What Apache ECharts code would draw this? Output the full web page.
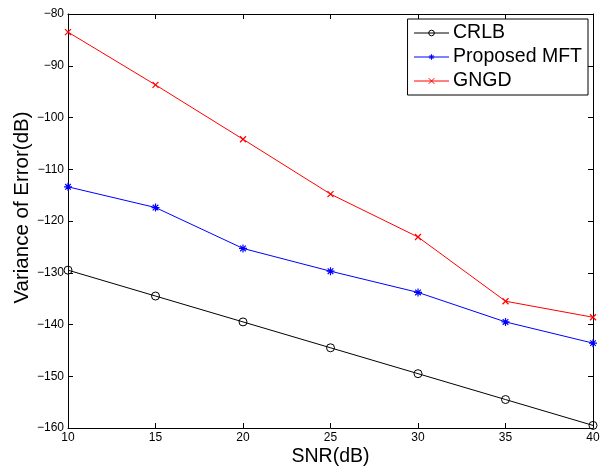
<!DOCTYPE html>
<html>
<head>
<meta charset="utf-8">
<script src="https://cdn.jsdelivr.net/npm/echarts@6/dist/echarts.min.js"></script>
<style>
  html, body { margin: 0; padding: 0; background: #fff; }
  #root { width: 600px; height: 470px; }
</style>
</head>
<body>
<div id="root"></div>
<script>
  // SNR points (dB)
  const snr = [10, 15, 20, 25, 30, 35, 40];
  const crlb = [-129.5, -134.5, -139.5, -144.5, -149.5, -154.5, -159.5];
  const mft = [-113.4, -117.4, -125.3, -129.7, -133.8, -139.5, -143.6];
  const gngd = [-83.5, -93.7, -104.2, -114.8, -123.1, -135.5, -138.6];

  const xTicks = [10, 15, 20, 25, 30, 35, 40];
  const yTicks = [-160, -150, -140, -130, -120, -110, -100, -90, -80];

  const font = "'Liberation Sans', Arial, Helvetica, sans-serif";
  const pair = (ys) => snr.map((x, i) => [x, ys[i]]);
  const minus = (v) => String(v).replace("-", "\u2212");

  const starPath = "path://M5,0L5,10M0,5L10,5M1.5,1.5L8.5,8.5M8.5,1.5L1.5,8.5";
  const crossPath = "path://M0,0L10,10M10,0L0,10";

  const axisCommon = {
    type: "value",
    axisLine: { show: true, lineStyle: { color: "#000", width: 1 } },
    axisTick: { show: true, inside: true, length: 5, lineStyle: { color: "#000" } },
    splitLine: { show: false },
  };

  const chart = echarts.init(document.getElementById("root"));
  chart.setOption({
    backgroundColor: "#ffffff",
    animation: false,
    textStyle: { fontFamily: font },
    grid: { left: 68, right: 7, top: 14, bottom: 42, containLabel: false, outerBoundsMode: "none" },
    legend: {
      right: 12,
      top: 19,
      orient: "vertical",
      itemWidth: 35,
      itemHeight: 7,
      itemGap: 4,
      padding: [4, 6, 4, 6],
      borderColor: "#000",
      borderWidth: 1,
      backgroundColor: "#fff",
      lineStyle: { width: 1 },
      itemStyle: { borderWidth: 1 },
      textStyle: { fontSize: 19.5, color: "#000", fontFamily: font, padding: [0, 0, 0, -1] },
      data: ["CRLB", "Proposed MFT", "GNGD"],
    },
    xAxis: [
      Object.assign({}, axisCommon, {
        min: 10, max: 40, interval: 5,
        name: "SNR(dB)",
        nameLocation: "middle",
        nameGap: 19,
        nameMoveOverlap: false,
        nameTextStyle: { fontSize: 19.5, color: "#000" },
        axisLabel: { color: "#000", fontSize: 12, margin: 4,
          formatter: (v) => xTicks.includes(v) ? minus(v) : "" },
      }),
      Object.assign({}, axisCommon, {
        position: "top", min: 10, max: 40, interval: 5,
        axisLabel: { show: false },
      }),
    ],
    yAxis: [
      Object.assign({}, axisCommon, {
        min: -160, max: -80, interval: 10,
        name: "Variance of Error(dB)",
        nameLocation: "middle",
        nameGap: 35,
        nameMoveOverlap: false,
        nameTextStyle: { fontSize: 20.5, color: "#000", padding: [0, 0, 0, 27] },
        axisLabel: { color: "#000", fontSize: 12, margin: 4,
          formatter: (v) => yTicks.includes(v) ? minus(v) : "" },
      }),
      Object.assign({}, axisCommon, {
        position: "right", min: -160, max: -80, interval: 10,
        axisLabel: { show: false },
      }),
    ],
    series: [
      {
        name: "CRLB",
        type: "line",
        data: pair(crlb),
        symbol: "circle",
        symbolSize: 8,
        lineStyle: { color: "#000", width: 1 },
        itemStyle: { color: "rgba(255,255,255,0)", borderColor: "#000", borderWidth: 1 },
      },
      {
        name: "Proposed MFT",
        type: "line",
        data: pair(mft),
        symbol: starPath,
        symbolSize: 8,
        lineStyle: { color: "#0000ff", width: 1 },
        itemStyle: { color: "#0000ff", borderColor: "#0000ff", borderWidth: 1.2 },
      },
      {
        name: "GNGD",
        type: "line",
        data: pair(gngd),
        symbol: crossPath,
        symbolSize: 6,
        lineStyle: { color: "#ff0000", width: 1 },
        itemStyle: { color: "#ff0000", borderColor: "#ff0000", borderWidth: 1.2 },
      },
    ],
  });
</script>
</body>
</html>
